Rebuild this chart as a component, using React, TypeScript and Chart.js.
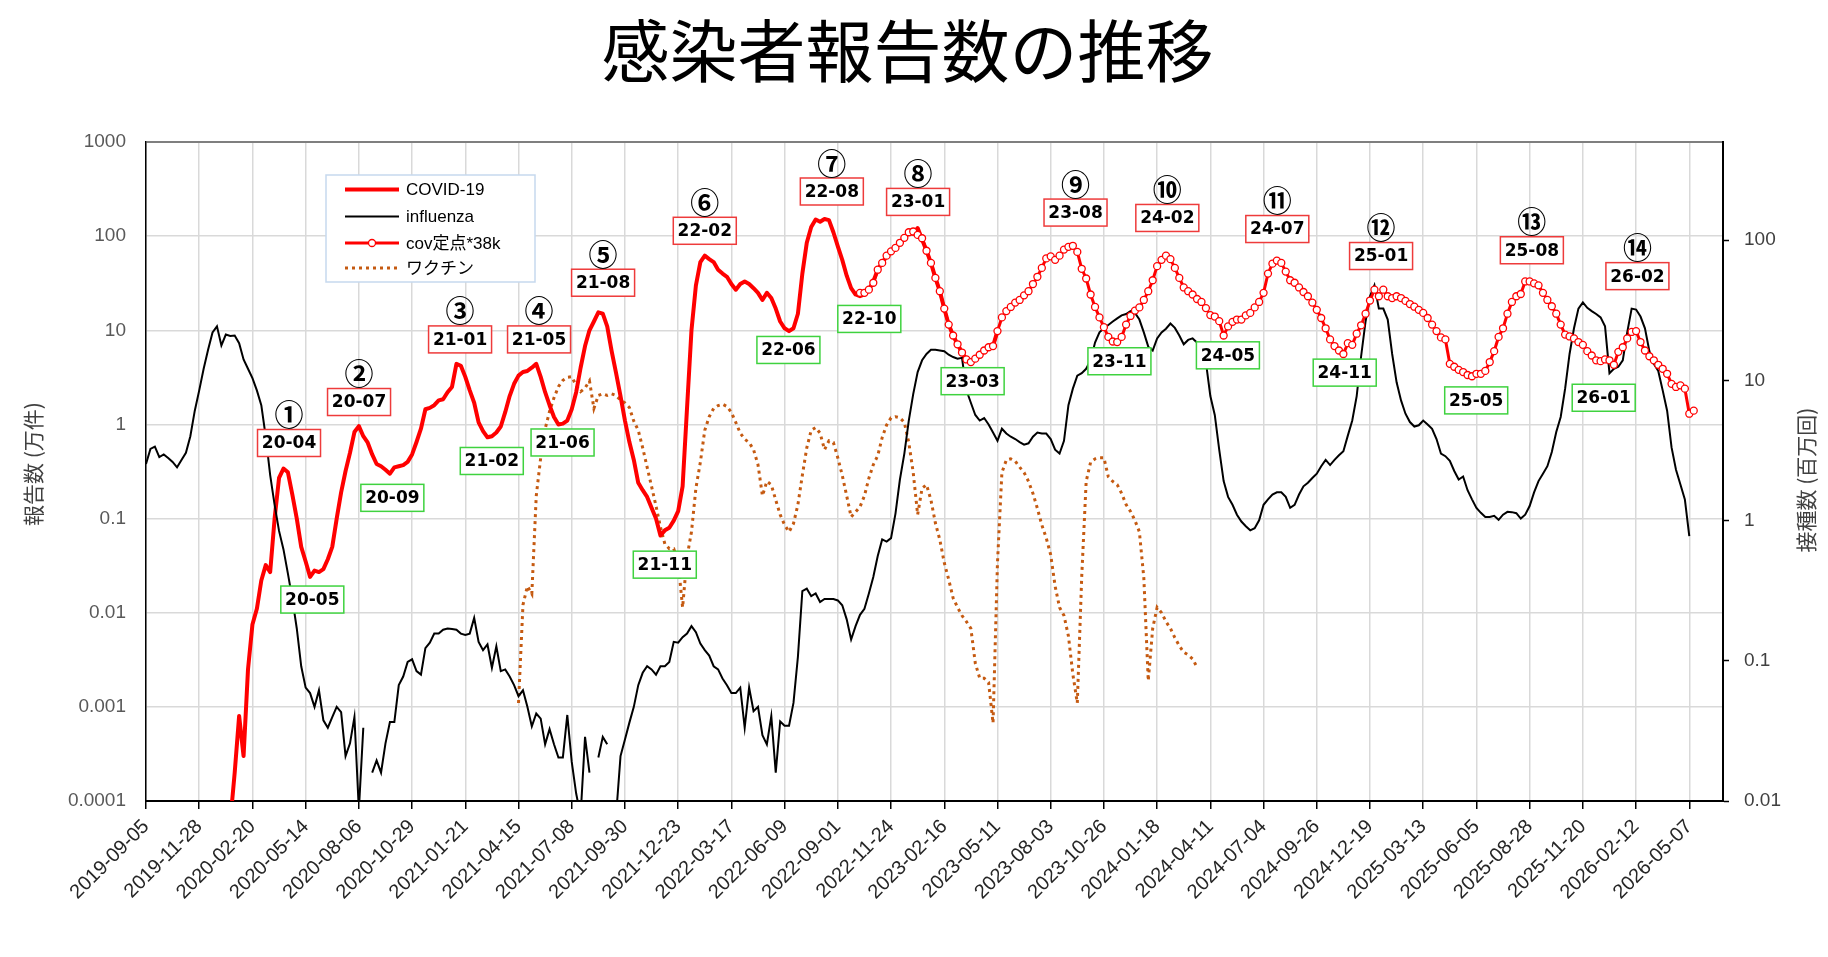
import React, { useEffect, useRef } from 'react';
import { Chart, registerables } from 'chart.js';

Chart.register(...registerables);

// Weekly series, one value per week starting at each series' start date.
const originDate = '2019-09-05';
const axisEndWeek = 355.6;

const tickLabels = [
  '2019-09-05', '2019-11-28', '2020-02-20', '2020-05-14', '2020-08-06', '2020-10-29',
  '2021-01-21', '2021-04-15', '2021-07-08', '2021-09-30', '2021-12-23', '2022-03-17',
  '2022-06-09', '2022-09-01', '2022-11-24', '2023-02-16', '2023-05-11', '2023-08-03',
  '2023-10-26', '2024-01-18', '2024-04-11', '2024-07-04', '2024-09-26', '2024-12-19',
  '2025-03-13', '2025-06-05', '2025-08-28', '2025-11-20', '2026-02-12', '2026-05-07',
];
const leftTicks = [0.0001, 0.001, 0.01, 0.1, 1, 10, 100, 1000];
const rightTicks = [0.01, 0.1, 1, 10, 100];

const chartTitle = '感染者報告数の推移';
const leftAxisTitle = '報告数 (万件)';
const rightAxisTitle = '接種数 (百万回)';

// COVID-19 weekly reports (10k cases)
const covidStart = '2020-01-16';
const covid = [
  0.00006, 0.0002, 0.0008, 0.0003, 0.0025, 0.0075, 0.011, 0.022, 0.032, 0.027,
  0.1, 0.27, 0.34, 0.31, 0.18, 0.1, 0.05, 0.035, 0.024, 0.028,
  0.027, 0.029, 0.037, 0.05, 0.1, 0.19, 0.32, 0.5, 0.83, 0.96,
  0.75, 0.64, 0.48, 0.38, 0.36, 0.33, 0.30, 0.35, 0.36, 0.37,
  0.40, 0.48, 0.65, 0.9, 1.45, 1.5, 1.6, 1.8, 1.85, 2.2,
  2.5, 4.4, 4.2, 3.2, 2.3, 1.7, 1.05, 0.85, 0.73, 0.75,
  0.82, 0.95, 1.35, 2.0, 2.7, 3.3, 3.6, 3.7, 4.0, 4.4,
  3.2, 2.2, 1.6, 1.2, 1.0, 1.02, 1.1, 1.45, 2.2, 4.0,
  6.8, 10, 12.4, 15.5, 15, 11, 6, 3.5, 2.0, 1.1,
  0.65, 0.42, 0.24, 0.2, 0.17, 0.13, 0.1, 0.066, 0.075, 0.08,
  0.095, 0.12, 0.22, 1.5, 10, 30, 53, 62, 57, 53,
  44, 40, 37, 31, 27, 31, 33, 31, 28, 25,
  21, 25, 22, 17, 12.4, 10.5, 9.8, 10.5, 15, 40,
  85, 125, 150, 142, 152, 148, 110, 78, 56, 38,
  28, 24, 23, 24, 27, 33, 44, 52, 61, 69,
  75, 85, 97, 108, 106, 122, 92, 70, 52, 36,
  26, 17, 11.5, 8.8, 7.1, 5.8, 4.9, 4.6, 5.0, 5.5,
  6.1, 6.6, 6.8, 9.8,
];

// Influenza weekly reports (10k cases); null = no report
const influenzaStart = '2019-09-05';
const influenza = [
  0.38, 0.55, 0.58, 0.45, 0.48, 0.44, 0.40, 0.35, 0.42, 0.50,
  0.75, 1.4, 2.3, 3.9, 6.2, 9.5, 11, 6.9, 9, 8.7,
  8.8, 7.3, 4.9, 3.9, 3.1, 2.3, 1.6, 0.74, 0.29, 0.14,
  0.074, 0.047, 0.026, 0.014, 0.0068, 0.0027, 0.0016, 0.0014, 0.001, 0.0015,
  0.00072, 0.0006, 0.00078, 0.001, 0.00088, 0.0003, 0.00041, 0.00078, 0.00008, 0.0006,
  null, 0.0002, 0.00027, 0.0002, 0.00041, 0.00069, 0.00069, 0.0017, 0.0021, 0.003,
  0.0032, 0.0024, 0.0022, 0.0042, 0.0048, 0.006, 0.006, 0.0066, 0.0068, 0.0067,
  0.0066, 0.006, 0.0058, 0.006, 0.0088, 0.0049, 0.004, 0.0046, 0.0026, 0.0044,
  0.0024, 0.0025, 0.0021, 0.0017, 0.0013, 0.0015, 0.001, 0.00062, 0.00085, 0.00075,
  0.0004, 0.00058, 0.0004, 0.00029, 0.00029, 0.00082, 0.00026, 0.00012, 0.00007, 0.00048,
  0.0002, null, 0.00029, 0.00048, 0.0004, null, 0.00007, 0.0003, 0.00045, 0.00068,
  0.001, 0.0017, 0.0023, 0.0027, 0.0025, 0.0022, 0.0027, 0.0027, 0.003, 0.0049,
  0.0048, 0.0055, 0.006, 0.0072, 0.0062, 0.0047, 0.004, 0.0035, 0.0027, 0.0025,
  0.002, 0.0017, 0.0014, 0.0014, 0.0016, 0.0006, 0.0016, 0.0009, 0.001, 0.0005,
  0.0004, 0.0008, 0.0002, 0.0007, 0.00063, 0.00063, 0.0011, 0.0034, 0.017, 0.018,
  0.015, 0.016, 0.013, 0.014, 0.014, 0.014, 0.0135, 0.012, 0.0085, 0.0052,
  0.0072, 0.0095, 0.011, 0.016, 0.024, 0.04, 0.06, 0.057, 0.062, 0.113,
  0.26, 0.49, 1.1, 2.1, 3.6, 4.8, 5.6, 6.2, 6.2, 6.1,
  6.0, 5.5, 5.2, 5.0, 5.1, 2.3, 1.7, 1.26, 1.1, 1.17,
  1.0, 0.82, 0.67, 0.9, 0.8, 0.74, 0.7, 0.65, 0.61, 0.63,
  0.74, 0.82, 0.8, 0.8, 0.7, 0.54, 0.49, 0.67, 1.6, 2.4,
  3.3, 3.5, 3.9, 4.8, 7.4, 9.5, 10.5, 11.4, 12.4, 13.4,
  14.4, 14.9, 16, 15.3, 13, 9.5, 6.7, 6.1, 8.2, 9.5,
  10.4, 11.8, 10.6, 8.8, 7.1, 7.9, 8.2, 7.4, 6.0, 4.6,
  2.0, 1.26, 0.54, 0.25, 0.17, 0.14, 0.11, 0.093, 0.083, 0.075,
  0.079, 0.096, 0.14, 0.16, 0.18, 0.19, 0.19, 0.17, 0.13, 0.14,
  0.18, 0.22, 0.24, 0.27, 0.3, 0.36, 0.42, 0.37, 0.42, 0.47,
  0.52, 0.76, 1.1, 2.0, 5.3, 12.4, 23, 30, 17, 17,
  13, 5.6, 2.8, 1.8, 1.3, 1.06, 0.95, 0.98, 1.1, 1.0,
  0.9, 0.7, 0.49, 0.46, 0.41, 0.32, 0.26, 0.28, 0.2, 0.16,
  0.13, 0.115, 0.104, 0.104, 0.107, 0.097, 0.11, 0.118, 0.117, 0.114,
  0.1, 0.11, 0.136, 0.19, 0.25, 0.3, 0.36, 0.51, 0.83, 1.2,
  2.4, 5.6, 10.5, 17, 19.8, 17.3, 16, 14.9, 13.7, 11,
  3.5, 3.9, 4.1, 4.8, 9.5, 17, 16.6, 14, 10.5, 6,
  4.4, 3.7, 2.3, 1.4, 0.57, 0.33, 0.23, 0.16, 0.065,
];

// Sentinel COVID-19 reports scaled by 38k (10k cases)
const sentinelStart = '2022-10-06';
const sentinel = [
  25, 25, 27, 32, 44, 52, 62, 69, 75, 85,
  96, 110, 112, 103, 95, 70, 52, 36, 26, 17,
  11.5, 8.8, 7.1, 5.8, 4.9, 4.6, 5.0, 5.5, 6.1, 6.6,
  6.8, 9.8, 13.7, 16, 17.7, 19.7, 21, 23.5, 26, 31,
  37, 46, 58, 61, 56, 62, 72, 77, 79, 68,
  45, 35.5, 24, 17.7, 13.7, 10.8, 8.5, 7.6, 7.5, 8.5,
  11.5, 14.2, 16.2, 17.5, 21, 26, 34, 48, 56, 62,
  57, 46, 36, 28.5, 26, 24, 21.5, 20, 17.2, 14.5,
  14, 12.5, 8.8, 11, 12.3, 13, 13, 14.4, 15.3, 17.5,
  20, 25, 40, 51, 55, 52, 42, 34, 32, 28.5,
  25.5, 23, 19.7, 16.5, 13.5, 10.5, 8, 6.8, 6.1, 5.6,
  7.3, 7.0, 9.2, 11.3, 15, 20.7, 27, 23, 27, 23,
  22, 23, 22, 20.5, 19, 17.8, 16.5, 15.3, 13.5, 11.5,
  9.8, 8.4, 8, 4.4, 4.1, 3.8, 3.6, 3.35, 3.25, 3.45,
  3.45, 3.7, 4.6, 6, 8.5, 10.5, 15, 20, 23, 24.3,
  33, 33, 31.5, 30, 25, 21, 18, 15, 11.5, 9,
  8.6, 8.2, 7.5, 7, 6, 5.4, 4.8, 4.7, 4.9, 4.8,
  4.3, 5.9, 6.6, 8.2, 9.6, 9.8, 7.5, 6.1, 5.3, 4.8,
  4.3, 3.9, 3.45, 2.7, 2.5, 2.6, 2.4, 1.3, 1.4,
];

// Vaccinations per week (millions), right axis
const vaccineStart = '2021-04-15';
const vaccine = [
  0.05, 0.25, 0.34, 0.3, 1.5, 2.8, 4.5, 6, 7.5, 9,
  10, 10.5, 10.6, 9.2, 8.3, 8.8, 9.9, 6.3, 7.8, 8.0,
  7.8, 8.0, 7.8, 7.2, 6.9, 6.4, 5.1, 4.4, 3.3, 2.4,
  1.75, 1.27, 0.9, 0.68, 0.63, 0.63, 0.5, 0.24, 0.55, 0.83,
  1.7, 2.6, 4.4, 5.5, 6.3, 6.6, 6.75, 6.5, 5.9, 5.0,
  4.2, 3.8, 3.6, 3.2, 2.5, 1.5, 1.9, 1.8, 1.4, 1.1,
  0.93, 0.83, 0.95, 1.3, 2.1, 3.3, 4.4, 4.6, 4.2, 3.2,
  3.7, 3.6, 2.8, 2.1, 1.5, 1.06, 1.15, 1.25, 1.5, 2.0,
  2.5, 2.9, 3.9, 4.8, 5.4, 5.5, 5.4, 5.0, 3.6, 2.2,
  1.1, 1.7, 1.8, 1.4, 0.96, 0.73, 0.5, 0.38, 0.28, 0.24,
  0.21, 0.19, 0.17, 0.096, 0.075, 0.075, 0.07, 0.036, 0.5, 2.2,
  2.7, 2.75, 2.65, 2.4, 2.2, 1.9, 1.56, 1.22, 0.93, 0.75,
  0.57, 0.34, 0.24, 0.21, 0.15, 0.08, 0.05, 0.4, 1.9, 2.6,
  2.75, 2.8, 2.8, 2.05, 1.9, 1.8, 1.56, 1.3, 1.16, 1.0,
  0.83, 0.39, 0.072, 0.17, 0.24, 0.22, 0.19, 0.17, 0.146, 0.128,
  0.115, 0.11, 0.103, 0.09,
];

// Wave labels, anchored in data units (week from origin, left-axis value)
const peakLabels = [
  { mark: '①', text: '20-04', week: 32.25, value: 0.635 },
  { mark: '②', text: '20-07', week: 48.04, value: 1.73 },
  { mark: '③', text: '21-01', week: 70.82, value: 8.0 },
  { mark: '④', text: '21-05', week: 88.63, value: 8.0 },
  { mark: '⑤', text: '21-08', week: 103.07, value: 32 },
  { mark: '⑥', text: '22-02', week: 126.0, value: 114 },
  { mark: '⑦', text: '22-08', week: 154.65, value: 298 },
  { mark: '⑧', text: '23-01', week: 174.1, value: 231 },
  { mark: '⑨', text: '23-08', week: 209.6, value: 178 },
  { mark: '⑩', text: '24-02', week: 230.3, value: 156 },
  { mark: '⑪', text: '24-07', week: 255.1, value: 119 },
  { mark: '⑫', text: '25-01', week: 278.5, value: 61.5 },
  { mark: '⑬', text: '25-08', week: 312.5, value: 70.8 },
  { mark: '⑭', text: '26-02', week: 336.3, value: 37.6 },
];
const troughLabels = [
  { text: '20-05', week: 37.5, value: 0.0138 },
  { text: '20-09', week: 55.55, value: 0.166 },
  { text: '21-02', week: 77.97, value: 0.409 },
  { text: '21-06', week: 93.93, value: 0.643 },
  { text: '21-11', week: 116.98, value: 0.0324 },
  { text: '22-06', week: 144.86, value: 6.18 },
  { text: '22-10', week: 163.1, value: 13.2 },
  { text: '23-03', week: 186.4, value: 2.88 },
  { text: '23-11', week: 219.5, value: 4.69 },
  { text: '24-05', week: 243.96, value: 5.42 },
  { text: '24-11', week: 270.3, value: 3.55 },
  { text: '25-05', week: 299.95, value: 1.8 },
  { text: '26-01', week: 328.7, value: 1.92 },
];

const WEEK_MS = 7 * 24 * 3600 * 1000;
const weekOf = (d: string) =>
  (Date.parse(d + 'T00:00:00Z') - Date.parse(originDate + 'T00:00:00Z')) / WEEK_MS;
const toPoints = (start: string, values: (number | null)[]) => {
  const w0 = weekOf(start);
  return values.map((v, i) => ({ x: w0 + i, y: v }));
};

const LATIN = "'Liberation Sans', 'Noto Sans CJK JP', sans-serif";
const CJK = "'Noto Sans CJK JP', sans-serif";
const LABEL = "'DejaVu Sans', sans-serif";

const overlayPlugin = {
  id: 'overlay',
  afterDraw(chart: any) {
    const { ctx, chartArea: a, scales } = chart;
    const xs = scales.x;
    const ys = scales.y;
    ctx.save();

    // chart title
    ctx.fillStyle = '#000000';
    ctx.font = `68px ${CJK}`;
    ctx.textAlign = 'center';
    ctx.textBaseline = 'middle';
    ctx.fillText(chartTitle, chart.width / 2 - 6.5, 51.5);

    // wave label boxes
    const drawBox = (cx: number, cy: number, text: string, stroke: string) => {
      const w = 63;
      const h = 27;
      ctx.fillStyle = '#ffffff';
      ctx.fillRect(cx - w / 2, cy - h / 2, w, h);
      ctx.strokeStyle = stroke;
      ctx.lineWidth = 1.5;
      ctx.setLineDash([]);
      ctx.strokeRect(cx - w / 2, cy - h / 2, w, h);
      ctx.fillStyle = '#000000';
      ctx.font = `bold 17px ${LABEL}`;
      ctx.textAlign = 'center';
      ctx.textBaseline = 'middle';
      ctx.fillText(text, cx, cy + 1);
    };
    troughLabels.forEach((p) => {
      drawBox(xs.getPixelForValue(p.week), ys.getPixelForValue(p.value), p.text, '#3fd23f');
    });
    peakLabels.forEach((p) => {
      const cx = xs.getPixelForValue(p.week);
      const cy = ys.getPixelForValue(p.value);
      drawBox(cx, cy, p.text, '#ee3b3b');
      ctx.fillStyle = '#000000';
      ctx.font = `bold 29px ${CJK}`;
      ctx.textAlign = 'center';
      ctx.textBaseline = 'middle';
      ctx.fillText(p.mark, cx, cy - 28);
    });

    // legend inside the plot area
    const lx = a.left + 180;
    const ly = a.top + 33;
    ctx.fillStyle = '#ffffff';
    ctx.fillRect(lx, ly, 209, 107);
    ctx.strokeStyle = '#c6d9ee';
    ctx.lineWidth = 1.5;
    ctx.strokeRect(lx, ly, 209, 107);
    const rows = [14.5, 41.5, 68, 93];
    chart.data.datasets.forEach((ds: any, i: number) => {
      const y = ly + rows[i];
      ctx.save();
      ctx.strokeStyle = ds.borderColor;
      ctx.lineWidth = ds.borderWidth;
      ctx.setLineDash(ds.borderDash || []);
      ctx.beginPath();
      ctx.moveTo(lx + 19, y);
      ctx.lineTo(lx + 73, y);
      ctx.stroke();
      if (ds.pointRadius > 0) {
        ctx.setLineDash([]);
        ctx.beginPath();
        ctx.arc(lx + 46, y, ds.pointRadius, 0, Math.PI * 2);
        ctx.fillStyle = ds.pointBackgroundColor;
        ctx.fill();
        ctx.lineWidth = ds.pointBorderWidth;
        ctx.strokeStyle = ds.pointBorderColor;
        ctx.stroke();
      }
      ctx.restore();
      ctx.fillStyle = '#000000';
      ctx.font = `17px ${LATIN}`;
      ctx.textAlign = 'left';
      ctx.textBaseline = 'middle';
      ctx.fillText(ds.label, lx + 80, y + 1);
    });

    // axis titles, both reading bottom to top
    ctx.fillStyle = '#404040';
    ctx.font = `21px ${CJK}`;
    ctx.textAlign = 'center';
    ctx.textBaseline = 'middle';
    const midY = (a.top + a.bottom) / 2;
    ctx.save();
    ctx.translate(a.left - 113, midY - 7.5);
    ctx.rotate(-Math.PI / 2);
    ctx.fillText(leftAxisTitle, 0, 0);
    ctx.restore();
    ctx.save();
    ctx.translate(a.right + 83, midY + 8.5);
    ctx.rotate(-Math.PI / 2);
    ctx.fillText(rightAxisTitle, 0, 0);
    ctx.restore();

    ctx.restore();
  },
};

export default function App() {
  const canvasRef = useRef<HTMLCanvasElement | null>(null);

  useEffect(() => {
    const canvas = canvasRef.current;
    if (!canvas) return;
    const chart = new Chart(canvas, {
      type: 'line',
      data: {
        datasets: [
          {
            label: 'COVID-19',
            data: toPoints(covidStart, covid),
            borderColor: '#ff0000',
            borderWidth: 4,
            pointRadius: 0,
            borderJoinStyle: 'round',
            yAxisID: 'y',
            order: 2,
          },
          {
            label: 'influenza',
            data: toPoints(influenzaStart, influenza),
            borderColor: '#000000',
            borderWidth: 2,
            pointRadius: 0,
            yAxisID: 'y',
            order: 1,
          },
          {
            label: 'cov定点*38k',
            data: toPoints(sentinelStart, sentinel),
            borderColor: '#ff0000',
            borderWidth: 3,
            pointRadius: 3.5,
            pointBorderWidth: 1.3,
            pointBackgroundColor: '#ffffff',
            pointBorderColor: '#ff0000',
            yAxisID: 'y',
            order: 0,
          },
          {
            label: 'ワクチン',
            data: toPoints(vaccineStart, vaccine),
            borderColor: '#c55a11',
            borderWidth: 3,
            borderDash: [3, 4],
            pointRadius: 0,
            yAxisID: 'y2',
            order: 3,
          },
        ],
      } as any,
      options: {
        responsive: false,
        animation: false,
        events: [],
        spanGaps: false,
        layout: { padding: { top: 142, left: 0, right: 0, bottom: 0 } },
        plugins: {
          legend: { display: false },
          tooltip: { enabled: false },
          title: { display: false },
        },
        scales: {
          x: {
            type: 'linear',
            min: 0,
            max: axisEndWeek,
            afterBuildTicks: (s: any) => {
              s.ticks = tickLabels.map((d) => ({ value: weekOf(d) }));
            },
            afterFit: (s: any) => {
              s.height = 156;
            },
            ticks: {
              autoSkip: false,
              maxRotation: 45,
              minRotation: 45,
              padding: 6,
              color: '#262626',
              font: { family: LATIN, size: 20 },
              callback: (_v: any, i: number) => tickLabels[i],
            },
            grid: {
              color: '#d9d9d9',
              lineWidth: 1.5,
              tickLength: 8,
              tickColor: '#000000',
              tickWidth: 1.5,
            },
            border: { color: '#000000', width: 2 },
          },
          y: {
            type: 'logarithmic',
            position: 'left',
            min: 0.0001,
            max: 1000,
            afterBuildTicks: (s: any) => {
              s.ticks = leftTicks.map((v) => ({ value: v }));
            },
            afterFit: (s: any) => {
              s.width = 146;
            },
            ticks: {
              padding: 20,
              color: '#595959',
              font: { family: LATIN, size: 19 },
              callback: (v: any) => String(v),
            },
            grid: {
              drawTicks: false,
              color: (c: any) => (c.tick && c.tick.value === 1000 ? '#7f7f7f' : '#d9d9d9'),
              lineWidth: (c: any) => (c.tick && c.tick.value === 1000 ? 2 : 1.5),
            },
            border: { color: '#000000', width: 1.5 },
          },
          y2: {
            type: 'logarithmic',
            position: 'right',
            min: 0.01,
            max: 500,
            afterBuildTicks: (s: any) => {
              s.ticks = rightTicks.map((v) => ({ value: v }));
            },
            afterFit: (s: any) => {
              s.width = 105;
            },
            ticks: {
              padding: 15,
              color: '#404040',
              font: { family: LATIN, size: 19 },
              callback: (v: any) => String(v),
            },
            grid: {
              drawOnChartArea: false,
              tickLength: 6,
              tickColor: '#000000',
              tickWidth: 1.5,
            },
            border: { color: '#000000', width: 2 },
          },
        },
      } as any,
      plugins: [overlayPlugin],
    });
    return () => chart.destroy();
  }, []);

  return (
    <div style={{ position: 'fixed', left: 0, top: 0, width: 1828, height: 957, background: '#ffffff' }}>
      <canvas ref={canvasRef} width={1828} height={957} style={{ display: 'block' }} />
    </div>
  );
}
